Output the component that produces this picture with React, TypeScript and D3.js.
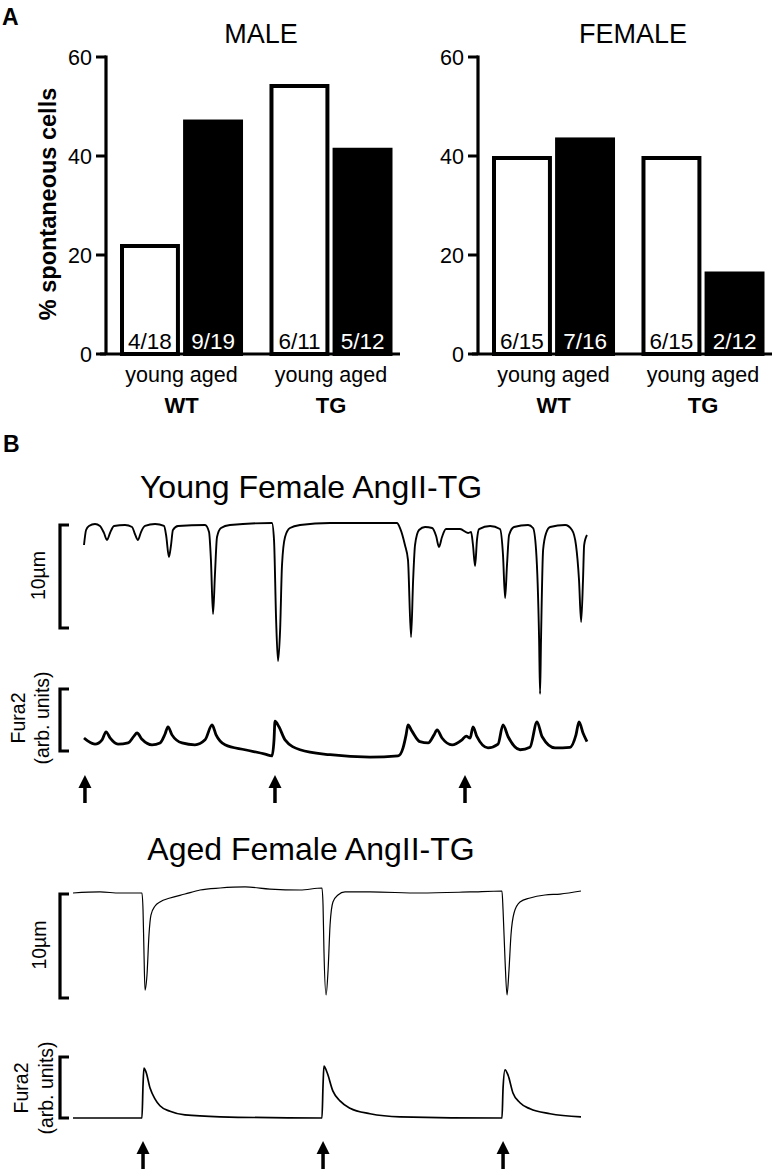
import * as d3 from 'd3';

const FONT = '"Liberation Sans", Arial, Helvetica, sans-serif';
const NARROW = '"Liberation Sans Narrow", "Arial Narrow", "Liberation Sans", sans-serif';

// ---- panel A data ----
const genotypes = ['WT', 'TG'];
const ages = ['young', 'aged'];
const yTicks = [0, 20, 40, 60];
// spontaneous cells / total cells, order: WT young, WT aged, TG young, TG aged
const maleCounts = [[4, 18], [9, 19], [6, 11], [5, 12]];
const femaleCounts = [[6, 15], [7, 16], [6, 15], [2, 12]];

// ---- panel B data: [time (s), value] ----
// cell length change (µm) and Fura2 ratio (arb. units)
const youngLength = [
  [0.0, -2.04], [0.11, -0.58], [0.26, -0.19], [0.58, 0], [0.84, -0.19], [1.05, -0.87], [1.21, -1.55],
  [1.37, -0.87], [1.58, -0.19], [2.16, -0.1], [2.53, -0.29], [2.68, -0.97], [2.84, -1.55], [3.0, -0.78],
  [3.21, -0.19], [3.74, 0], [4.21, -0.19], [4.32, -1.07], [4.47, -3.2], [4.58, -2.04], [4.68, -0.58],
  [4.95, -0.19], [6.37, -0.1], [6.58, -0.78], [6.68, -3.5], [6.79, -8.74], [6.89, -4.95], [7.0, -1.26],
  [7.21, -0.39], [7.68, -0.1], [9.89, 0.1], [10.0, -1.55], [10.11, -9.32], [10.21, -13.3], [10.32, -10.29],
  [10.42, -3.98], [10.58, -1.26], [10.84, -0.39], [11.37, -0.1], [12.95, 0.1], [16.47, 0.1], [16.63, -0.39],
  [16.89, -2.04], [17.05, -3.5], [17.21, -10.97], [17.32, -5.44], [17.42, -2.04], [17.63, -0.58],
  [17.95, -0.29], [18.32, -0.39], [18.53, -1.17], [18.68, -2.23], [18.84, -1.26], [19.05, -0.49],
  [19.79, -0.49], [20.21, -0.87], [20.37, -0.78], [20.47, -2.04], [20.58, -4.08], [20.68, -1.55],
  [20.79, -0.49], [21.37, -0.19], [21.89, -0.49], [22.05, -3.01], [22.16, -7.18], [22.26, -3.98],
  [22.37, -1.07], [22.63, -0.29], [23.37, -0.1], [23.63, -0.39], [23.79, -2.52], [23.95, -11.26],
  [24.0, -16.5], [24.05, -11.26], [24.16, -2.52], [24.32, -0.87], [24.53, -0.29], [25.32, -0.1],
  [25.68, -0.58], [25.89, -2.04], [26.05, -5.44], [26.16, -9.51], [26.26, -5.44], [26.32, -2.04],
  [26.47, -1.07],
];
const youngFura = [
  [0, 0.21], [0.21, 0.16], [0.58, 0.11], [0.95, 0.18], [1.16, 0.31], [1.37, 0.21], [1.79, 0.11],
  [2.32, 0.13], [2.63, 0.24], [2.79, 0.29], [3.05, 0.19], [3.58, 0.1], [4.0, 0.13], [4.26, 0.27],
  [4.42, 0.39], [4.63, 0.26], [5.16, 0.13], [5.84, 0.1], [6.37, 0.18], [6.74, 0.42], [6.95, 0.26],
  [7.42, 0.1], [8.47, 0.02], [9.53, -0.05], [9.89, -0.08], [10.0, 0.18], [10.05, 0.48], [10.26, 0.39],
  [10.58, 0.18], [11.37, 0.02], [12.95, -0.06], [15.05, -0.1], [16.53, -0.08], [16.79, 0.05],
  [16.95, 0.26], [17.05, 0.42], [17.26, 0.32], [17.68, 0.15], [18.11, 0.13], [18.42, 0.26],
  [18.58, 0.34], [18.84, 0.21], [19.37, 0.1], [19.89, 0.18], [20.11, 0.24], [20.32, 0.21],
  [20.47, 0.39], [20.68, 0.23], [21.26, 0.05], [21.79, 0.11], [22.05, 0.42], [22.32, 0.23],
  [22.95, 0.02], [23.47, 0.06], [23.84, 0.47], [24.11, 0.23], [24.79, 0.05], [25.58, 0.06],
  [25.89, 0.26], [26.05, 0.47], [26.26, 0.29], [26.47, 0.15],
];
const youngStim = [0.05, 10.05, 20.05];

const agedLength = [
  [0, 0], [1.5, 0.1], [2.61, 0], [3.83, 0], [3.89, -1.63], [3.94, -5.48], [4.0, -9.33], [4.11, -7.88],
  [4.22, -4.04], [4.33, -2.12], [4.56, -1.25], [4.83, -0.87], [5.39, -0.48], [6.22, -0.1], [7.06, 0.29],
  [8.17, 0.48], [9.56, 0.58], [10.94, 0.38], [12.61, 0.29], [13.83, 0.48], [13.89, -1.15],
  [13.94, -5.48], [14.06, -9.81], [14.17, -7.4], [14.28, -3.08], [14.44, -0.87], [14.72, -0.19],
  [15.11, 0.1], [16.5, 0.1], [19.28, 0], [22.06, 0.1], [23.83, 0.19], [23.89, -1.63], [24.0, -6.44],
  [24.11, -9.81], [24.22, -7.4], [24.33, -4.04], [24.5, -1.92], [24.83, -0.87], [25.39, -0.48],
  [26.22, -0.19], [27.06, -0.1], [28.22, 0.19],
];
const agedFura = [
  [0, 0], [3.83, 0], [3.89, 0.54], [3.94, 0.82], [4.06, 0.75], [4.28, 0.49], [4.56, 0.31], [4.83, 0.2],
  [5.39, 0.11], [6.22, 0.05], [8.17, 0.02], [13.83, 0], [13.89, 0.54], [13.94, 0.85], [14.11, 0.75],
  [14.44, 0.44], [14.83, 0.28], [15.39, 0.16], [16.5, 0.07], [18.17, 0.02], [23.83, 0], [23.89, 0.49],
  [24.0, 0.79], [24.17, 0.7], [24.44, 0.41], [24.83, 0.25], [25.39, 0.15], [26.5, 0.07], [28.22, 0.02],
];
const agedStim = [3.89, 13.89, 23.89];

const BASE_Y = 354;
const TOP_Y = 57;

function BarPanel({ title, counts, left, yLabel }: { title: string; counts: number[][]; left: number; yLabel?: string }) {
  const y = d3.scaleLinear().domain([0, 60]).range([BASE_Y, TOP_Y]);
  const gx = d3.scaleBand().domain(genotypes).range([left + 14, left + 286.5]).paddingInner(0.177);
  const sx = d3.scaleBand().domain(ages).range([0, gx.bandwidth()]).paddingInner(0.05);
  const bw = sx.bandwidth();

  return (
    <g fontFamily={FONT}>
      <text x={left + 155} y={43} fontSize={27} textAnchor="middle">{title}</text>
      {yLabel && (
        <text transform={`translate(56,204) rotate(-90)`} fontSize={23.5} fontWeight="bold" textAnchor="middle">
          {yLabel}
        </text>
      )}
      {counts.map((c, i) => {
        const g = genotypes[Math.floor(i / 2)];
        const a = ages[i % 2];
        const v = (c[0] / c[1]) * 100;
        const x = (gx(g) || 0) + (sx(a) || 0);
        const top = y(v);
        const filled = a === 'aged';
        return (
          <g key={i}>
            <rect x={x + 2} y={top + 2} width={bw - 4} height={BASE_Y - top - 2}
              fill={filled ? '#000' : '#fff'} stroke="#000" strokeWidth={4} />
            <text x={x + bw / 2} y={349} fontSize={22.5} fontFamily={NARROW} textAnchor="middle"
              fill={filled ? '#fff' : '#000'}>{`${c[0]}/${c[1]}`}</text>
          </g>
        );
      })}
      {genotypes.map((g) => {
        const cx = (gx(g) || 0) + gx.bandwidth() / 2;
        return (
          <g key={g}>
            <text x={cx} y={382} fontSize={21.5} textAnchor="middle">{ages.join(' ')}</text>
            <text x={cx} y={413} fontSize={22} fontWeight="bold" textAnchor="middle">{g}</text>
          </g>
        );
      })}
      <line x1={left} x2={left} y1={TOP_Y - 1.5} y2={BASE_Y} stroke="#000" strokeWidth={3.2} />
      <line x1={left - 6} x2={left + 294} y1={BASE_Y} y2={BASE_Y} stroke="#000" strokeWidth={3.2} />
      {yTicks.map((t) => (
        <g key={t}>
          <line x1={left - 10} x2={left} y1={y(t)} y2={y(t)} stroke="#000" strokeWidth={3} />
          <text x={left - 14} y={y(t)} dy="0.36em" fontSize={21.5} textAnchor="end">{t}</text>
        </g>
      ))}
    </g>
  );
}

type TraceProps = {
  title: string;
  titleY: number;
  length: number[][];
  fura: number[][];
  stim: number[];
  xRange: [number, number];
  tMax: number;
  lenRange: [number, number];
  furaRange: [number, number];
  arrowTop: number;
  lenWidth: number;
  furaWidth: number;
  labelX: [number, number, number];
  furaLabelY: number;
};

function Bracket({ x, y1, y2, tick }: { x: number; y1: number; y2: number; tick: number }) {
  return (
    <path d={`M${x + tick},${y1} H${x} V${y2} H${x + tick}`} fill="none" stroke="#000" strokeWidth={3.2} />
  );
}

function TraceBlock(p: TraceProps) {
  const x = d3.scaleLinear().domain([0, p.tMax]).range(p.xRange);
  const lenY = d3.scaleLinear().domain([-10, 0]).range(p.lenRange);
  const furaY = d3.scaleLinear().domain([0, 1]).range(p.furaRange);
  const lenLine = d3.line<number[]>().x((d) => x(d[0])).y((d) => lenY(d[1])).curve(d3.curveMonotoneX);
  const furaLine = d3.line<number[]>().x((d) => x(d[0])).y((d) => furaY(d[1])).curve(d3.curveMonotoneX);
  const lenMid = (lenY(0) + lenY(-10)) / 2;

  return (
    <g fontFamily={FONT}>
      <text x={311} y={p.titleY} fontSize={32} textAnchor="middle">{p.title}</text>
      <Bracket x={60} y1={lenY(0) + 1} y2={lenY(-10) + 1} tick={9} />
      <text transform={`translate(${p.labelX[0]},${lenMid}) rotate(-90)`} fontSize={19.5} textAnchor="middle">10µm</text>
      <Bracket x={60} y1={furaY(1)} y2={furaY(0)} tick={9} />
      <text transform={`translate(${p.labelX[1]},${p.furaLabelY}) rotate(-90)`} fontSize={19.5} textAnchor="middle">Fura2</text>
      <text transform={`translate(${p.labelX[2]},${p.furaLabelY}) rotate(-90)`} fontSize={19.5} textAnchor="middle">(arb. units)</text>
      <path d={lenLine(p.length) || ''} fill="none" stroke="#000" strokeWidth={p.lenWidth} strokeLinejoin="round" />
      <path d={furaLine(p.fura) || ''} fill="none" stroke="#000" strokeWidth={p.furaWidth} strokeLinejoin="round" />
      {p.stim.map((s, i) => {
        const ax = x(s);
        const t = p.arrowTop;
        return (
          <g key={i}>
            <line x1={ax} x2={ax} y1={t + 9} y2={t + 28} stroke="#000" strokeWidth={3.5} />
            <path d={`M${ax - 6.5},${t + 13} L${ax},${t} L${ax + 6.5},${t + 13} Z`} fill="#000" />
          </g>
        );
      })}
    </g>
  );
}

export default function App() {
  return (
    <svg width={781} height={1169} style={{ position: 'absolute', left: 0, top: 0, background: '#fff' }}>
      <rect width={781} height={1169} fill="#fff" />
      <text x={2} y={25} fontFamily={FONT} fontSize={23} fontWeight="bold">A</text>
      <text x={3} y={452} fontFamily={FONT} fontSize={23} fontWeight="bold">B</text>
      <BarPanel title="MALE" counts={maleCounts} left={106} yLabel="% spontaneous cells" />
      <BarPanel title="FEMALE" counts={femaleCounts} left={478} />
      <TraceBlock
        title="Young Female AngII-TG" titleY={498}
        length={youngLength} fura={youngFura} stim={youngStim}
        xRange={[84, 587]} tMax={26.47}
        lenRange={[627, 524]} furaRange={[751, 689]}
        arrowTop={775} lenWidth={1.9} furaWidth={2.8}
        labelX={[45, 25, 49]} furaLabelY={718}
      />
      <TraceBlock
        title="Aged Female AngII-TG" titleY={860}
        length={agedLength} fura={agedFura} stim={agedStim}
        xRange={[73, 581]} tMax={28.22}
        lenRange={[997, 893]} furaRange={[1118, 1057]}
        arrowTop={1141} lenWidth={1.2} furaWidth={1.7}
        labelX={[46, 28, 53]} furaLabelY={1088}
      />
    </svg>
  );
}
